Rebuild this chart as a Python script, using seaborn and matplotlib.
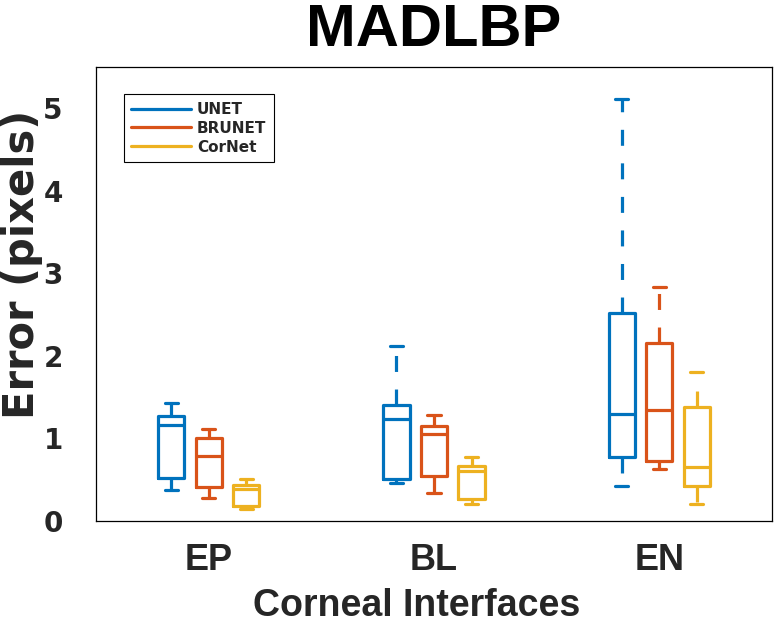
import numpy as np
import pandas as pd
import matplotlib
matplotlib.use("Agg")
import matplotlib.pyplot as plt
from matplotlib.lines import Line2D
import seaborn as sns

interfaces = ["EP", "BL", "EN"]
models = ["UNET", "BRUNET", "CorNet"]
colors = ["#0072BD", "#D95319", "#EDB120"]

# five-number summaries (per interface EP, BL, EN)
unet_low = [0.37, 0.46, 0.43]
unet_q1 = [0.52, 0.51, 0.77]
unet_med = [1.16, 1.24, 1.30]
unet_q3 = [1.27, 1.41, 2.52]
unet_high = [1.43, 2.12, 5.11]

brunet_low = [0.28, 0.34, 0.63]
brunet_q1 = [0.41, 0.54, 0.73]
brunet_med = [0.79, 1.06, 1.34]
brunet_q3 = [1.01, 1.15, 2.16]
brunet_high = [1.12, 1.28, 2.83]

cornet_low = [0.14, 0.21, 0.20]
cornet_q1 = [0.18, 0.27, 0.43]
cornet_med = [0.39, 0.60, 0.65]
cornet_q3 = [0.44, 0.67, 1.38]
cornet_high = [0.51, 0.77, 1.80]

summaries = {
    "UNET": (unet_low, unet_q1, unet_med, unet_q3, unet_high),
    "BRUNET": (brunet_low, brunet_q1, brunet_med, brunet_q3, brunet_high),
    "CorNet": (cornet_low, cornet_q1, cornet_med, cornet_q3, cornet_high),
}
rows = []
for m, stats in summaries.items():
    for i, itf in enumerate(interfaces):
        for s in stats:
            rows.append({"Interface": itf, "Model": m, "Error": s[i]})
df = pd.DataFrame(rows)

sns.set_theme(style="white")
plt.rcParams["font.family"] = ["Liberation Sans", "DejaVu Sans"]
plt.rcParams["font.weight"] = "bold"
wide = ["DejaVu Sans"]

fig = plt.figure(figsize=(7.74, 6.26), dpi=100)
ax = fig.add_axes([96 / 774, 1 - 521 / 626, 676 / 774, 454 / 626])

sns.boxplot(
    data=df, x="Interface", y="Error", hue="Model",
    order=interfaces, hue_order=models, palette=colors,
    fill=False, width=0.5, gap=0.3, whis=(0, 100), linewidth=2.3,
    whiskerprops={"linestyle": (0, (5, 5.5))},
    legend=False, ax=ax,
)

ax.set_xlim(-0.5, 2.5)
ax.set_ylim(0, 5.5)
ax.set_yticks([0, 1, 2, 3, 4, 5])
for sp in ax.spines.values():
    sp.set_visible(True)
    sp.set_color("black")
    sp.set_linewidth(0.9)
ax.tick_params(axis="y", length=0, pad=24, labelsize=20, labelcolor="#262626")
ax.tick_params(axis="x", length=0, pad=16, labelsize=26, labelcolor="#262626")
for lab in ax.get_xticklabels():
    lab.set_fontweight("bold")
for lab in ax.get_yticklabels():
    lab.set_fontweight("bold")
    lab.set_family(wide)

ax.set_title("MADLBP", fontsize=43, fontweight="bold", pad=15, color="black")
ax.set_xlabel("Corneal Interfaces", fontsize=27, fontweight="bold", color="#262626")
ax.xaxis.set_label_coords(0.475, -0.21)
ax.xaxis.label.set_va("baseline")
ax.set_ylabel("Error (pixels)", fontsize=30, fontweight="bold", color="#262626",
              family=wide)
ax.yaxis.set_label_coords(-0.0917, 0.565)
ax.yaxis.label.set_va("baseline")

handles = [Line2D([0], [0], color=c, lw=2.3) for c in colors]
leg = ax.legend(handles, models, loc="upper left", bbox_to_anchor=(0.041, 0.94),
                borderaxespad=0, handlelength=3.9, handletextpad=0.4,
                labelspacing=0.25, fancybox=False, framealpha=1, borderpad=0.5,
                prop={"family": wide, "weight": "bold", "size": 11})
leg.get_frame().set_edgecolor("black")
leg.get_frame().set_linewidth(0.8)

fig.savefig("out.png", dpi=100)
